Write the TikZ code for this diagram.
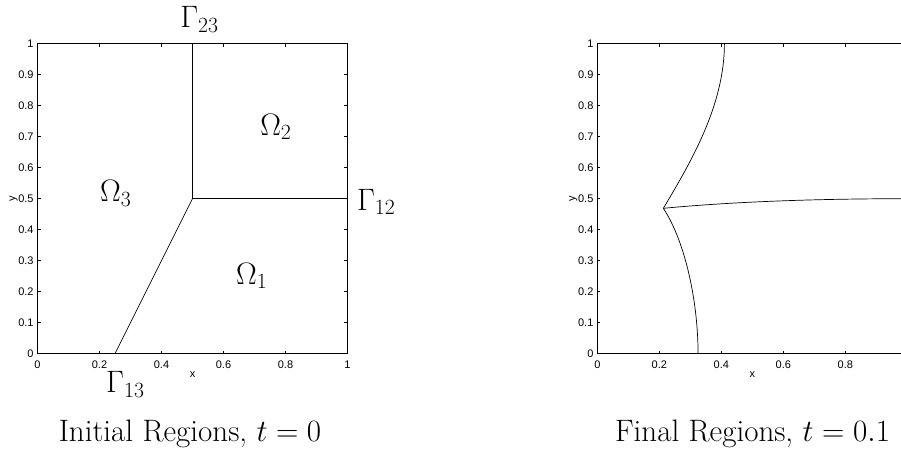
\RequirePackage{fix-cm}
\documentclass[tikz,border=0pt]{standalone}
\usepackage{fontspec}
\newfontfamily\tickfont{Liberation Sans}
\begin{document}
\begin{tikzpicture}[x=1pt,y=1pt,
  frame/.style={line width=1pt},
  tickline/.style={line width=0.6pt},
  curve/.style={line width=0.7pt},
  ticklab/.style={font=\tickfont\fontsize{11}{13}\selectfont, inner sep=0pt, text=black},
  big/.style={font=\fontsize{31}{36}\selectfont, inner sep=0pt, anchor=base west},
  title/.style={font=\fontsize{31}{36}\selectfont, inner sep=0pt, anchor=base},
]
\useasboundingbox (0,0) rectangle (901,453);
\clip (0,0) rectangle (901,453);
% ---------- left plot ----------
\begin{scope}[shift={(37.5pt,99.3pt)}, x=310pt, y=310pt]
  \draw[frame] (0,0) rectangle (1,1);
  \foreach \t in {0.2,0.4,0.6,0.8} {
    \draw[tickline] (\t,0) -- ++(0,0.0097);
    \draw[tickline] (\t,1) -- ++(0,-0.0097);
  }
  \foreach \t in {0.1,0.2,0.3,0.4,0.5,0.6,0.7,0.8,0.9} {
    \draw[tickline] (0,\t) -- ++(0.0097,0);
    \draw[tickline] (1,\t) -- ++(-0.0097,0);
  }
  \foreach \t/\l in {0/0,0.2/0.2,0.4/0.4,0.6/0.6,0.8/0.8,1/1}
    \node[ticklab, anchor=north] (lx\l) at (\t,-0.022) {\l};
  \foreach \t/\l in {0/0,0.1/0.1,0.2/0.2,0.3/0.3,0.4/0.4,0.5/0.5,0.6/0.6,0.7/0.7,0.8/0.8,0.9/0.9,1/1}
    \node[ticklab, anchor=east] (ly\l) at (-0.012,\t) {\l};
  \node[ticklab] (lxlab) at (0.5,-0.069) {x};
  \node[ticklab, rotate=90] (lylab) at (-0.077,0.5) {y};
  \coordinate (J) at (0.5,0.5);
  \coordinate (T23) at (0.5,1);
  \coordinate (T12) at (1,0.5);
  \coordinate (T13) at (0.25,0);
  \draw[curve] (J) -- (T23);
  \draw[curve] (J) -- (T12);
  \draw[curve] (J) -- (T13);
  \node[big] (g23) at (0.46,1.051) {$\Gamma_{23}$};
  \node[big] (g12) at (1.03,0.4635) {$\Gamma_{12}$};
  \node[big] (g13) at (0.221,-0.126) {$\Gamma_{13}$};
  \node[big] (o2) at (0.718,0.705) {$\Omega_2$};
  \node[big] (o3) at (0.2016,0.490) {$\Omega_3$};
  \node[big] (o1) at (0.640,0.224) {$\Omega_1$};
\end{scope}
% ---------- right plot ----------
\begin{scope}[shift={(597.3pt,99.3pt)}, x=310pt, y=310pt]
  \draw[frame] (0,0) rectangle (1,1);
  \foreach \t in {0.2,0.4,0.6,0.8} {
    \draw[tickline] (\t,0) -- ++(0,0.0097);
    \draw[tickline] (\t,1) -- ++(0,-0.0097);
  }
  \foreach \t in {0.1,0.2,0.3,0.4,0.5,0.6,0.7,0.8,0.9} {
    \draw[tickline] (0,\t) -- ++(0.0097,0);
    \draw[tickline] (1,\t) -- ++(-0.0097,0);
  }
  \foreach \t/\l in {0/0,0.2/0.2,0.4/0.4,0.6/0.6,0.8/0.8}
    \node[ticklab, anchor=north] (rx\l) at (\t,-0.022) {\l};
  \foreach \t/\l in {0/0,0.1/0.1,0.2/0.2,0.3/0.3,0.4/0.4,0.5/0.5,0.6/0.6,0.7/0.7,0.8/0.8,0.9/0.9,1/1}
    \node[ticklab, anchor=east] (ry\l) at (-0.012,\t) {\l};
  \node[ticklab] (rxlab) at (0.5,-0.069) {x};
  \node[ticklab, rotate=90] (rylab) at (-0.077,0.5) {y};
  \coordinate (K) at (0.213,0.469);
  \coordinate (U) at (0.410,1.0);
  \coordinate (L) at (0.325,0);
  \coordinate (R) at (1,0.5);
  \draw[curve] (K) .. controls (0.300,0.615) and (0.410,0.80) .. (U);
  \draw[curve] (K) .. controls (0.283,0.363) and (0.325,0.17) .. (L);
  \draw[curve] (K) .. controls (0.350,0.482) and (0.600,0.500) .. (R);
\end{scope}
% ---------- titles ----------
\node[title] (t1) at (190,12) {Initial Regions, $t=0$};
\node[title] (t2) at (752.5,12) {Final Regions, $t=0.1$};
\end{tikzpicture}
\end{document}
